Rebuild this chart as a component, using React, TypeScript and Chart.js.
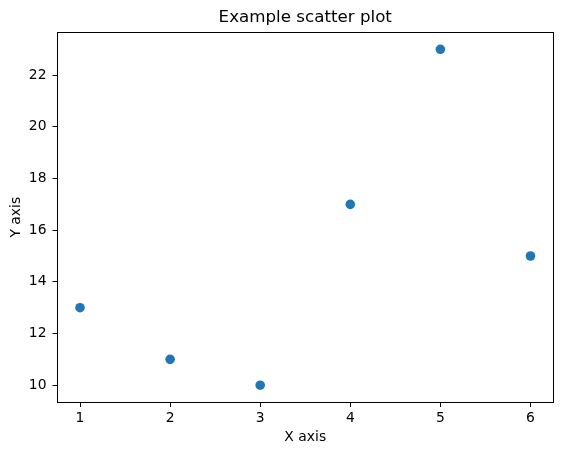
import React, { useEffect, useRef } from "react";
import { Chart, registerables } from "chart.js";

Chart.register(...registerables);

const xValues = [1, 2, 3, 4, 5, 6];
const yValues = [13, 11, 10, 17, 23, 15];
const xTicks = [1, 2, 3, 4, 5, 6];
const yTicks = [10, 12, 14, 16, 18, 20, 22];
const titleText = "Example scatter plot";
const xLabel = "X axis";
const yLabel = "Y axis";

const FONT = "'DejaVu Sans', sans-serif";
const COLOR = "#1f77b4";

const boxPlugin = {
  id: "boxPlugin",
  afterDraw(chart: any) {
    const { ctx, chartArea } = chart;
    ctx.save();
    ctx.strokeStyle = "#000";
    ctx.lineWidth = 1;
    const l = Math.floor(chartArea.left) + 0.5;
    const t = Math.floor(chartArea.top) + 0.5;
    const r = Math.floor(chartArea.right) + 0.5;
    const b = Math.floor(chartArea.bottom) + 0.5;
    ctx.strokeRect(l, t, r - l, b - t);
    ctx.fillStyle = "#000";
    ctx.font = `16.7px ${FONT}`;
    ctx.textAlign = "center";
    ctx.textBaseline = "middle";
    ctx.fillText(titleText, (chartArea.left + chartArea.right) / 2, 18);
    ctx.restore();
  },
};

export default function App() {
  const ref = useRef<HTMLCanvasElement>(null);
  useEffect(() => {
    if (!ref.current) return;
    const chart = new Chart(ref.current, {
      type: "scatter",
      data: {
        datasets: [
          {
            data: xValues.map((x, i) => ({ x, y: yValues[i] })),
            backgroundColor: COLOR,
            borderColor: COLOR,
            borderWidth: 0,
            pointRadius: 4.8,
          },
        ],
      },
      options: {
        responsive: false,
        animation: false,
        layout: { padding: { left: 0, right: 10, top: 32.5, bottom: 0 } },
        plugins: {
          legend: { display: false },
          tooltip: { enabled: false },
          title: { display: false },
        },
        scales: {
          x: {
            type: "linear",
            min: 0.75,
            max: 6.25,
            afterBuildTicks: (s: any) => {
              s.ticks = xTicks.map((v) => ({ value: v }));
            },
            afterFit: (s: any) => {
              s.height = 53;
            },
            grid: {
              drawOnChartArea: false,
              drawTicks: true,
              tickLength: 5,
              tickColor: "#000",
              color: "#000",
            },
            border: { display: false },
            ticks: {
              color: "#000",
              font: { family: FONT, size: 13.9 },
              padding: 3,
              maxRotation: 0,
            },
            title: {
              display: true,
              text: xLabel,
              color: "#000",
              font: { family: FONT, size: 13.9 },
              padding: { top: 0, bottom: 9.7 },
            },
          },
          y: {
            type: "linear",
            min: 9.35,
            max: 23.65,
            afterBuildTicks: (s: any) => {
              s.ticks = yTicks.map((v) => ({ value: v }));
            },
            afterFit: (s: any) => {
              s.width = 57.5;
            },
            grid: {
              drawOnChartArea: false,
              drawTicks: true,
              tickLength: 5,
              tickColor: "#000",
              color: "#000",
            },
            border: { display: false },
            ticks: {
              color: "#000",
              font: { family: FONT, size: 13.9 },
              padding: 6,
            },
            title: {
              display: true,
              text: yLabel,
              color: "#000",
              font: { family: FONT, size: 13.9 },
              padding: { top: 7.7, bottom: 0 },
            },
          },
        },
      },
      plugins: [boxPlugin],
    });
    return () => chart.destroy();
  }, []);
  return (
    <div style={{ position: "absolute", left: 0, top: 0, width: 563, height: 455, background: "#fff" }}>
      <canvas ref={ref} width={563} height={455} style={{ display: "block" }} />
    </div>
  );
}
